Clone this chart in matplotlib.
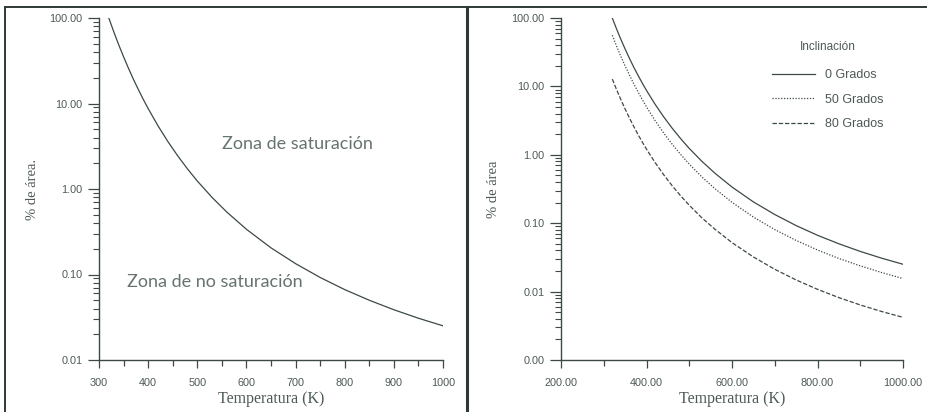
import matplotlib

matplotlib.use("Agg")
import matplotlib.pyplot as plt
from matplotlib.lines import Line2D
from matplotlib.ticker import FixedLocator, FuncFormatter, LogLocator, NullFormatter

# ---- data -------------------------------------------------------------------
temp_k = [320, 330, 340, 350, 360, 370, 380, 390, 400, 420, 440, 460, 480, 500,
          530, 560, 600, 650, 700, 750, 800, 850, 900, 950, 1000]
area_0 = [100, 69.1, 48.8, 35.2, 25.8, 19.2, 14.6, 11.2, 8.73, 5.49, 3.60, 2.45,
          1.72, 1.24, 0.798, 0.538, 0.338, 0.205, 0.134, 0.0923, 0.0666, 0.0500,
          0.0387, 0.0308, 0.0251]
area_50 = [55.9, 38.8, 27.5, 19.9, 14.7, 11.0, 8.34, 6.43, 5.02, 3.17, 2.09, 1.43,
           1.01, 0.731, 0.472, 0.320, 0.202, 0.123, 0.0807, 0.0560, 0.0406, 0.0305,
           0.0238, 0.0190, 0.0155]
area_80 = [12.8, 8.97, 6.41, 4.67, 3.46, 2.60, 1.99, 1.54, 1.21, 0.773, 0.513,
           0.353, 0.251, 0.183, 0.119, 0.0817, 0.0520, 0.0321, 0.0212, 0.0148,
           0.0108, 0.00817, 0.00638, 0.00512, 0.00420]
series_labels = ["0 Grados", "50 Grados", "80 Grados"]

left_xticks = [300, 400, 500, 600, 700, 800, 900, 1000]
left_xminor = [350, 450, 550, 650, 750, 850, 950]
right_xticks = [200, 400, 600, 800, 1000]
right_xminor = [300, 500, 700, 900]

INK = "#3c4a42"
TXT = "#4d5a54"
ZONE = "#66746f"
TICKFONT = ["Liberation Sans", "DejaVu Sans"]
SERIF = ["Liberation Serif", "DejaVu Serif"]

plt.rcParams.update({
    "axes.edgecolor": INK,
    "xtick.color": INK,
    "ytick.color": INK,
    "xtick.labelcolor": TXT,
    "ytick.labelcolor": TXT,
})


def style_axes(ax, xticks, xminor, ymin):
    ax.set_yscale("log")
    ax.set_ylim(ymin, 100)
    ax.set_xlim(xticks[0], xticks[-1])
    for side in ("top", "right"):
        ax.spines[side].set_visible(False)
    for side in ("left", "bottom"):
        ax.spines[side].set_linewidth(1.0)
    ax.xaxis.set_major_locator(FixedLocator(xticks))
    ax.xaxis.set_minor_locator(FixedLocator(xminor))
    ax.yaxis.set_major_locator(LogLocator(base=10, numticks=10))
    ax.yaxis.set_minor_locator(LogLocator(base=10, subs=range(2, 10), numticks=20))
    ax.yaxis.set_minor_formatter(NullFormatter())
    ax.yaxis.set_major_formatter(FuncFormatter(lambda v, p: f"{v:.2f}"))
    ax.tick_params(axis="y", which="major", length=8, width=0.9, pad=4, labelsize=7.8)
    ax.tick_params(axis="y", which="minor", length=4, width=0.8)
    ax.tick_params(axis="x", which="major", length=6, width=0.9, pad=7, labelsize=7.8)
    ax.tick_params(axis="x", which="minor", length=4, width=0.9)
    ax.set_xlabel("Temperatura (K)", family=SERIF, fontsize=11.5, color=TXT, labelpad=2)


def set_tick_font(ax):
    for lab in ax.get_xticklabels() + ax.get_yticklabels():
        lab.set_family(TICKFONT)


fig = plt.figure(figsize=(9.27, 4.12), dpi=100)

# left panel: saturation map
ax1 = fig.add_axes([99 / 927, 52 / 412, 344 / 927, 342 / 412])
ax1.plot(temp_k, area_0, color=INK, lw=0.9)
style_axes(ax1, left_xticks, left_xminor, 0.01)
ax1.set_xticklabels([str(t) for t in left_xticks])
set_tick_font(ax1)
ax1.set_ylabel("% de área.", family=SERIF, fontsize=10.5, color=TXT, labelpad=7)
ax1.text(0.358, 0.632, "Zona de saturación", transform=ax1.transAxes,
         family=["Lato", "DejaVu Sans"], fontsize=13, color=ZONE, va="center")
ax1.text(0.081, 0.228, "Zona de no saturación", transform=ax1.transAxes,
         family=["Lato", "DejaVu Sans"], fontsize=13, color=ZONE, va="center")

# right panel: effect of inclination
ax2 = fig.add_axes([561 / 927, 52 / 412, 342 / 927, 342 / 412])
ax2.plot(temp_k, area_0, color=INK, lw=0.9, label=series_labels[0])
ax2.plot(temp_k, area_50, color=INK, lw=0.9, ls=(0, (1, 1.3)), label=series_labels[1])
ax2.plot(temp_k, area_80, color=INK, lw=0.9, ls=(0, (3.5, 1.5)), label=series_labels[2])
style_axes(ax2, right_xticks, right_xminor, 0.001)
ax2.set_xticklabels([f"{t:.2f}" for t in right_xticks])
set_tick_font(ax2)
ax2.set_ylabel("% de área", family=SERIF, fontsize=10.5, color=TXT, labelpad=8)
leg = ax2.legend(title="Inclinación", loc="upper left", bbox_to_anchor=(0.60, 0.952),
                 frameon=False, borderpad=0, handlelength=3.4, handletextpad=0.8,
                 labelspacing=1.0,
                 prop={"family": TICKFONT, "size": 9})
leg.get_title().set_family(TICKFONT)
leg.get_title().set_fontsize(8.5)
leg.get_title().set_color(TXT)
leg._legend_box.sep = 12
for t in leg.get_texts():
    t.set_color(TXT)

# frame lines around the figure panels
H, W = 412, 927
fig.add_artist(Line2D([5 / W, 1], [1 - 7 / H, 1 - 7 / H], color="#2e3a33", lw=1.4))
fig.add_artist(Line2D([5 / W, 5 / W], [0, 1 - 7 / H], color="#2e3a33", lw=1.4))
fig.add_artist(Line2D([467 / W, 467 / W], [0, 1 - 7 / H], color="#2e3a33", lw=2.2))

fig.savefig("out.png", dpi=100, facecolor="white")
